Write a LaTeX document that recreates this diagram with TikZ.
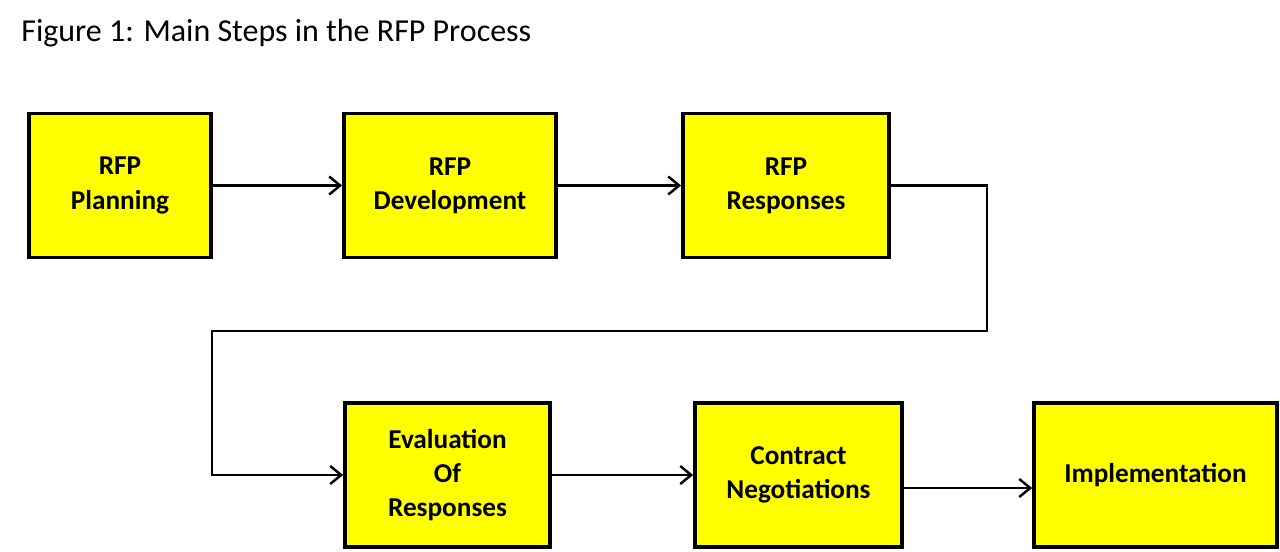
\documentclass[tikz,border=0pt]{standalone}
\usepackage{fontspec}
\setmainfont{Carlito}
\usetikzlibrary{arrows.meta}
\definecolor{boxyellow}{RGB}{255,255,0}
\begin{document}
\begin{tikzpicture}
% Define styles
\tikzstyle{stepbox} = [rectangle, minimum height=2.88cm, align=center, draw=black, line width=2.1pt, fill=boxyellow, font=\fontsize{15.5}{19.5}\selectfont\bfseries]
\tikzstyle{arrow} = [line width=1.4pt, -{Straight Barb[length=2.2mm,width=3.6mm,line width=1.4pt]}]
\useasboundingbox (0,0) rectangle (25.6,11.02);
% Title
\node (title) [anchor=base west, inner sep=0pt, font=\fontsize{18.2}{21}\selectfont] at (0.42,10.18) {Figure 1: Main Steps in the RFP Process};
% Place nodes
\node (plan) [stepbox, minimum width=3.64cm] at (2.40,7.31) {RFP\\Planning};
\node (dev) [stepbox, minimum width=4.24cm] at (9.00,7.31) {RFP\\Development};
\node (resp) [stepbox, minimum width=4.12cm] at (15.72,7.31) {RFP\\Responses};
\node (eval) [stepbox, minimum width=4.10cm] at (8.95,1.52) {Evaluation\\Of\\Responses};
\node (contr) [stepbox, minimum width=4.14cm] at (15.97,1.52) {Contract\\Negotiations};
\node (impl) [stepbox, minimum width=4.86cm] at (23.11,1.52) {Implementation};
% Draw arrows
\draw [arrow] (plan) -- (dev);
\draw [arrow] (dev) -- (resp);
\draw [arrow] (resp.east) -- (19.74,7.31) -- (19.74,4.40) -- (4.24,4.40) |- (eval.west);
\draw [arrow] (eval) -- (contr);
\draw [arrow] ([yshift=-0.26cm]contr.east) -- ([yshift=-0.26cm]impl.west);
\end{tikzpicture}
\end{document}
